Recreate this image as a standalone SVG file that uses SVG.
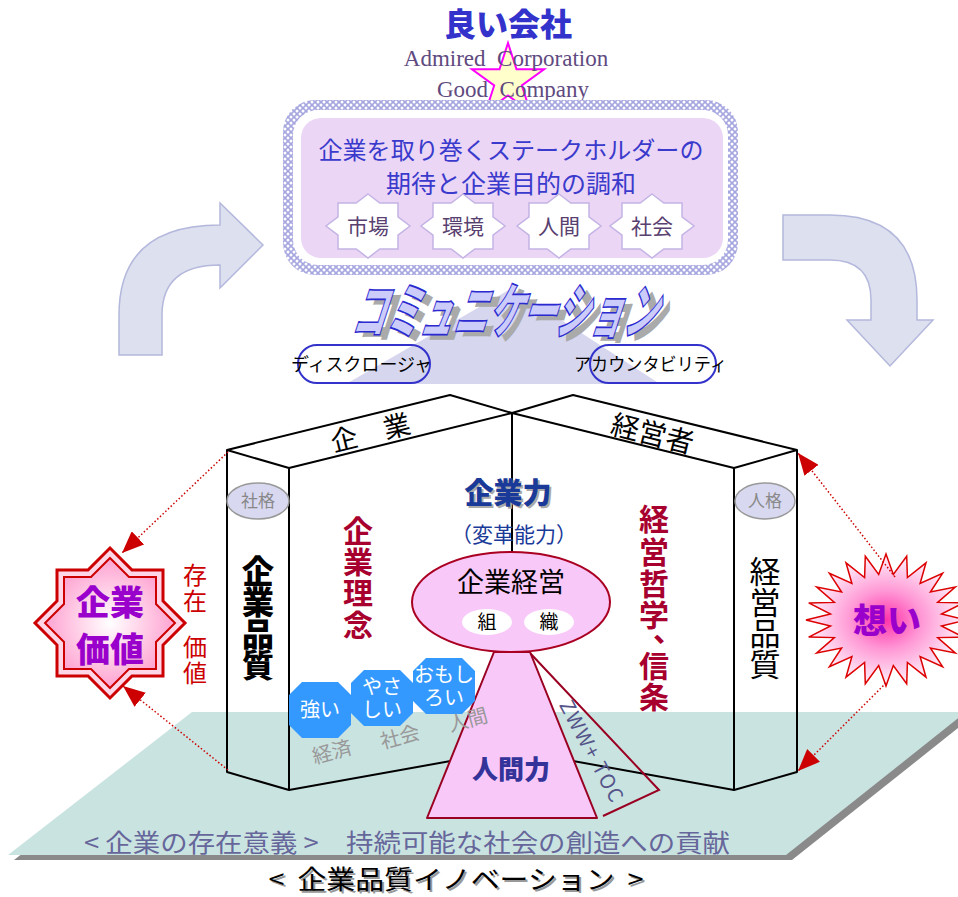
<svg xmlns="http://www.w3.org/2000/svg" xmlns:xlink="http://www.w3.org/1999/xlink" width="958" height="897" viewBox="0 0 958 897">
<style>
  text { font-family: 'Noto Sans CJK JP', 'Noto Sans', sans-serif; }
  .en { font-family: 'Liberation Serif', serif; fill: #604a80; font-size: 23px; }
  .struct { fill: none; stroke: #000; stroke-width: 2; stroke-linejoin: round; }
  .badge { fill: #ffffff; stroke: #c4b4e4; stroke-width: 1.5; }
  .badgeT { fill: #584070; font-size: 21px; text-anchor: middle; }
  .bigArrow { fill: #dde0ee; stroke: #b4b8dc; stroke-width: 1.5; }
  .dot { fill: none; stroke: #cc0000; stroke-width: 1.5; stroke-dasharray: 1.5 2.2; }
  .oct { fill: #3399ff; }
  .octT { fill: #ffffff; font-size: 20px; text-anchor: middle; }
  .grayT { fill: #999999; font-size: 20px; text-anchor: middle; }
  .vc { text-anchor: middle; dominant-baseline: central; }
  .pill { fill: none; stroke: #3333cc; stroke-width: 2; }
  .pillT { fill: #000; font-size: 18px; }
  .tag { fill: #d8d8f0; stroke: #999999; stroke-width: 1.5; }
  .tagT { fill: #888888; font-size: 17px; text-anchor: middle; }
</style>
<defs>
  <pattern id="chk" width="6" height="6" patternUnits="userSpaceOnUse">
    <rect width="6" height="6" fill="#a6a6e0"/>
    <circle cx="0" cy="0" r="1.5" fill="#ffffff"/>
    <circle cx="6" cy="0" r="1.5" fill="#ffffff"/>
    <circle cx="0" cy="6" r="1.5" fill="#ffffff"/>
    <circle cx="6" cy="6" r="1.5" fill="#ffffff"/>
    <circle cx="3" cy="3" r="1.5" fill="#ffffff"/>
  </pattern>
  <radialGradient id="gPink" cx="50%" cy="50%" r="55%">
    <stop offset="0%" stop-color="#ffffff"/>
    <stop offset="100%" stop-color="#ff99cc"/>
  </radialGradient>
  <radialGradient id="gBurst" cx="50%" cy="50%" r="50%">
    <stop offset="0%" stop-color="#ff33aa"/>
    <stop offset="45%" stop-color="#ff99d6"/>
    <stop offset="100%" stop-color="#fff4fa"/>
  </radialGradient>
  <polygon id="badge" points="0,-32 11.8,-23 30,-23 30,-9.1 42,0 30,9.1 30,23 11.8,23 0,32 -11.8,23 -30,23 -30,9.1 -42,0 -30,-9.1 -30,-23 -11.8,-23"/>
  <polygon id="octagon" points="-18,-28 18,-28 31,-15 31,15 18,28 -18,28 -31,15 -31,-15"/>
  <marker id="ah" markerUnits="userSpaceOnUse" markerWidth="22" markerHeight="18" viewBox="0 0 22 18" refX="22" refY="9" orient="auto">
    <path d="M0,0 L22,9 L0,18 z" fill="#cc0000"/>
  </marker>
</defs>

<rect width="958" height="897" fill="#ffffff"/>

<!-- floor -->
<g id="floor">
  <polygon points="198,717 972,717 792,860 14,860" fill="#8a8a8a"/>
  <polygon points="192,712 966,712 786,855 8,855" fill="#c9e3e1"/>
  <text x="84" y="852" font-size="25" fill="#66669a" textLength="646" lengthAdjust="spacingAndGlyphs" xml:space="preserve">&lt; 企業の存在意義 &gt;　持続可能な社会の創造への貢献</text>
</g>

<!-- title -->
<g id="title">
  <polygon points="508,43 516.5,69.3 544.1,69.3 521.8,85.5 530.3,111.7 508,95.5 485.7,111.7 494.2,85.5 471.9,69.3 499.5,69.3" fill="#ffffcc" stroke="#ff00ff" stroke-width="2"/>
  <text x="508" y="36" font-size="32" font-weight="900" fill="#3333cc" text-anchor="middle">良い会社</text>
  <text class="en" x="506" y="66" text-anchor="middle" xml:space="preserve">Admired  Corporation</text>
  <text class="en" x="513" y="97" text-anchor="middle" xml:space="preserve">Good  Company</text>
</g>

<!-- big curved arrows -->
<g id="arrow-left">
  <path class="bigArrow" d="M119,355 L119,315 Q119,225 220,225 L220,203 L263,245 L220,288 L220,265 Q162,265 162,315 L162,355 Z"/>
</g>
<g id="arrow-right">
  <path class="bigArrow" d="M783,215 L830,215 Q917,215 917,300 L917,320 L933,320 L890,366 L847,320 L871,320 L871,300 Q871,260 830,260 L783,260 Z"/>
</g>

<!-- light triangle behind communication -->
<polygon id="comm-cone" points="512,288 660,384 346,384" fill="#d6d6ee"/>

<!-- stakeholder box -->
<g id="stakeholder-box">
  <rect x="283" y="100" width="455" height="175" rx="32" fill="url(#chk)"/>
  <rect x="293" y="110" width="435" height="155" rx="25" fill="#ffffff"/>
  <rect x="301" y="118" width="422" height="140" rx="20" fill="#ecd6f6"/>
  <text x="511" y="159" font-size="24" fill="#3a3acc" text-anchor="middle" textLength="385" lengthAdjust="spacingAndGlyphs">企業を取り巻くステークホルダーの</text>
  <text x="511" y="193" font-size="25" fill="#3a3acc" text-anchor="middle">期待と企業目的の調和</text>
</g>
<g id="badge-market">
  <use xlink:href="#badge" href="#badge" class="badge" transform="translate(368,226)"/>
  <text class="badgeT" x="368" y="234">市場</text>
</g>
<g id="badge-environment">
  <use xlink:href="#badge" href="#badge" class="badge" transform="translate(463,226)"/>
  <text class="badgeT" x="463" y="234">環境</text>
</g>
<g id="badge-human">
  <use xlink:href="#badge" href="#badge" class="badge" transform="translate(559,226)"/>
  <text class="badgeT" x="559" y="234">人間</text>
</g>
<g id="badge-society">
  <use xlink:href="#badge" href="#badge" class="badge" transform="translate(652,226)"/>
  <text class="badgeT" x="652" y="234">社会</text>
</g>

<!-- communication -->
<g id="communication">
  <g transform="translate(517,316) skewX(-18)">
    <text x="0" y="22" font-size="60" font-weight="900" fill="#aaaaaa" text-anchor="middle" textLength="305" lengthAdjust="spacingAndGlyphs">コミュニケーション</text>
  </g>
  <g transform="translate(510,311) skewX(-18)">
    <text x="0" y="22" font-size="60" font-weight="900" fill="#ccccfa" stroke="#2a2ad0" stroke-width="1.6" text-anchor="middle" textLength="305" lengthAdjust="spacingAndGlyphs">コミュニケーション</text>
  </g>
</g>
<g id="disclosure">
  <rect class="pill" x="298" y="345" width="132" height="38" rx="19"/>
  <text class="pillT" x="291" y="371" textLength="141" lengthAdjust="spacingAndGlyphs">ディスクロージャ</text>
</g>
<g id="accountability">
  <rect class="pill" x="590" y="345" width="126" height="38" rx="19"/>
  <text class="pillT" x="574" y="371" textLength="153" lengthAdjust="spacingAndGlyphs">アカウンタビリティ</text>
</g>

<!-- 3D structure -->
<g id="structure">
  <polygon class="struct" points="227,450 227,772 289,790 289,468"/>
  <polyline class="struct" points="227,450 450,395 512,413 289,468"/>
  <polygon class="struct" points="797,450 797,772 734,790 734,468"/>
  <polyline class="struct" points="797,450 573,395 512,413 734,468"/>
  <line class="struct" x1="512" y1="413" x2="512" y2="560"/>
  <polyline class="struct" points="289,790 512,750 734,790"/>
  <text x="370" y="431" font-size="27" fill="#000" class="vc" transform="rotate(-14 370 431)">企　業</text>
  <text x="653" y="432" font-size="28" fill="#000" class="vc" transform="rotate(14 653 432)">経営者</text>
</g>

<!-- left pillar -->
<g id="corp-quality">
  <ellipse class="tag" cx="258" cy="501" rx="31" ry="18"/>
  <text class="tagT" x="258" y="507">社格</text>
  <text class="vc" font-size="32" font-weight="900" fill="#000">
    <tspan x="258" y="569">企</tspan><tspan x="258" y="600">業</tspan><tspan x="258" y="632">品</tspan><tspan x="258" y="663">質</tspan>
  </text>
</g>

<!-- right pillar -->
<g id="mgmt-quality">
  <ellipse class="tag" cx="765" cy="501" rx="30" ry="18"/>
  <text class="tagT" x="765" y="507">人格</text>
  <text class="vc" font-size="31" fill="#000">
    <tspan x="765" y="569">経</tspan><tspan x="765" y="600">営</tspan><tspan x="765" y="631">品</tspan><tspan x="765" y="662">質</tspan>
  </text>
</g>

<!-- philosophy -->
<g id="corp-philosophy">
  <text class="vc" font-size="30" font-weight="bold" fill="#a8002e">
    <tspan x="358" y="529">企</tspan><tspan x="358" y="560">業</tspan><tspan x="358" y="591">理</tspan><tspan x="358" y="623">念</tspan>
  </text>
</g>
<g id="mgmt-philosophy">
  <text class="vc" font-size="30" font-weight="bold" fill="#a8002e">
    <tspan x="654" y="517">経</tspan><tspan x="654" y="550">営</tspan><tspan x="654" y="582">哲</tspan><tspan x="654" y="613">学</tspan><tspan x="668" y="628">、</tspan><tspan x="654" y="664">信</tspan><tspan x="654" y="695">条</tspan>
  </text>
</g>

<!-- corporate power -->
<g id="corp-power">
  <text x="510" y="506" font-size="29" font-weight="900" fill="#aaaaaa" text-anchor="middle">企業力</text>
  <text x="508" y="504" font-size="29" font-weight="900" fill="#1a3a99" text-anchor="middle">企業力</text>
  <text x="514" y="542" font-size="21" fill="#1a3a99" text-anchor="middle">（変革能力）</text>
</g>

<!-- human power cone -->
<g id="zww-toc">
  <polyline points="530,653 659,790 603,816" fill="none" stroke="#990022" stroke-width="2"/>
  <text x="593" y="751" font-family="'Liberation Sans', sans-serif" font-size="20" letter-spacing="1.5" fill="#55558a" text-anchor="middle" dominant-baseline="central" transform="rotate(62 593 751)" xml:space="preserve">ZWW+ TOC</text>
</g>
<g id="human-power">
  <polygon points="494,652 530,652 597,818 427,818" fill="#f8c8f8" stroke="#990022" stroke-width="2" stroke-linejoin="round"/>
  <text x="511" y="779" font-size="26" font-weight="900" fill="#333399" text-anchor="middle">人間力</text>
</g>

<!-- values octagons -->
<g id="val-strong">
  <use xlink:href="#octagon" href="#octagon" class="oct" transform="translate(320,710)"/>
  <text class="octT" x="320" y="717">強い</text>
</g>
<g id="val-kind">
  <use xlink:href="#octagon" href="#octagon" class="oct" transform="translate(382,698)"/>
  <text class="octT" x="382" y="694">やさ</text>
  <text class="octT" x="382" y="717">しい</text>
</g>
<g id="val-fun">
  <use xlink:href="#octagon" href="#octagon" class="oct" transform="translate(444,686)"/>
  <text class="octT" x="444" y="682" font-size="19">おもし</text>
  <text class="octT" x="444" y="705">ろい</text>
</g>
<g id="val-labels">
  <text class="grayT" x="332" y="759" transform="rotate(-15 332 752)">経済</text>
  <text class="grayT" x="400" y="744" transform="rotate(-15 400 737)">社会</text>
  <text class="grayT" x="468" y="727" transform="rotate(-15 468 720)">人間</text>
</g>

<!-- corporate management ellipse -->
<g id="corp-management">
  <ellipse cx="511" cy="602" rx="99" ry="50" fill="#f8c8f8" stroke="#aa0022" stroke-width="2"/>
  <text x="511" y="592" font-size="27" fill="#000" text-anchor="middle">企業経営</text>
  <ellipse cx="487" cy="622" rx="25" ry="13" fill="#ffffff"/>
  <ellipse cx="549" cy="622" rx="25" ry="13" fill="#ffffff"/>
  <text x="487" y="629" font-size="19" fill="#000" text-anchor="middle">組</text>
  <text x="549" y="629" font-size="19" fill="#000" text-anchor="middle">織</text>
</g>

<!-- corporate value star -->
<g id="corp-value">
  <polygon transform="translate(110,623)" points="0,-75 22,-53 53,-53 53,-22 75,0 53,22 53,53 22,53 0,75 -22,53 -53,53 -53,22 -75,0 -53,-22 -53,-53 -22,-53" fill="#ffd6e8" stroke="#cc0000" stroke-width="3" stroke-linejoin="miter"/>
  <polygon transform="translate(110,623)" points="0,-65 19,-46 46,-46 46,-19 65,0 46,19 46,46 19,46 0,65 -19,46 -46,46 -46,19 -65,0 -46,-19 -46,-46 -19,-46" fill="url(#gPink)" stroke="#cc0000" stroke-width="2"/>
  <text x="110" y="615" font-size="34" font-weight="900" fill="#9900cc" text-anchor="middle">企業</text>
  <text x="110" y="662" font-size="34" font-weight="900" fill="#9900cc" text-anchor="middle">価値</text>
</g>
<g id="existence-value">
  <text class="vc" font-size="24" fill="#cc0000">
    <tspan x="195" y="573">存</tspan><tspan x="195" y="599">在</tspan><tspan x="195" y="645">価</tspan><tspan x="195" y="671">値</tspan>
  </text>
</g>

<!-- passion burst -->
<g id="passion">
  <polygon transform="translate(886,620)" fill="url(#gBurst)" stroke="#dd0000" stroke-width="1.5" stroke-linejoin="miter"
    points="80,0 55.5,6 77.3,17.1 51.7,17.6 69.3,33 44.4,28 56.6,46.7 34.1,36.5 40,57.2 21.4,42.5 20.7,63.7 7.3,45.6 0,66 -7.3,45.6 -20.7,63.7 -21.4,42.5 -40,57.2 -34.1,36.5 -56.6,46.7 -44.4,28 -69.3,33 -51.7,17.6 -77.3,17.1 -55.5,6 -80,0 -55.5,-6 -77.3,-17.1 -51.7,-17.6 -69.3,-33 -44.4,-28 -56.6,-46.7 -34.1,-36.5 -40,-57.2 -21.4,-42.5 -20.7,-63.7 -7.3,-45.6 0,-66 7.3,-45.6 20.7,-63.7 21.4,-42.5 40,-57.2 34.1,-36.5 56.6,-46.7 44.4,-28 69.3,-33 51.7,-17.6 77.3,-17.1 55.5,-6"/>
  <text x="887" y="633" font-size="34" font-weight="900" fill="#9900cc" text-anchor="middle">想い</text>
</g>

<!-- connectors -->
<g id="connectors">
  <line class="dot" x1="228" y1="452" x2="122" y2="553" marker-end="url(#ah)"/>
  <line class="dot" x1="228" y1="770" x2="123" y2="686" marker-end="url(#ah)"/>
  <line class="dot" x1="895" y1="577" x2="798" y2="453" marker-end="url(#ah)"/>
  <line class="dot" x1="886" y1="683" x2="798" y2="771" marker-end="url(#ah)"/>
</g>

<!-- bottom title -->
<g id="bottom-title">
  <text x="458" y="891" font-size="26" fill="#999999" text-anchor="middle" textLength="375" lengthAdjust="spacingAndGlyphs" xml:space="preserve">&lt;  企業品質イノベーション  &gt;</text>
  <text x="456" y="889" font-size="26" fill="#000000" text-anchor="middle" textLength="375" lengthAdjust="spacingAndGlyphs" xml:space="preserve">&lt;  企業品質イノベーション  &gt;</text>
</g>
</svg>
